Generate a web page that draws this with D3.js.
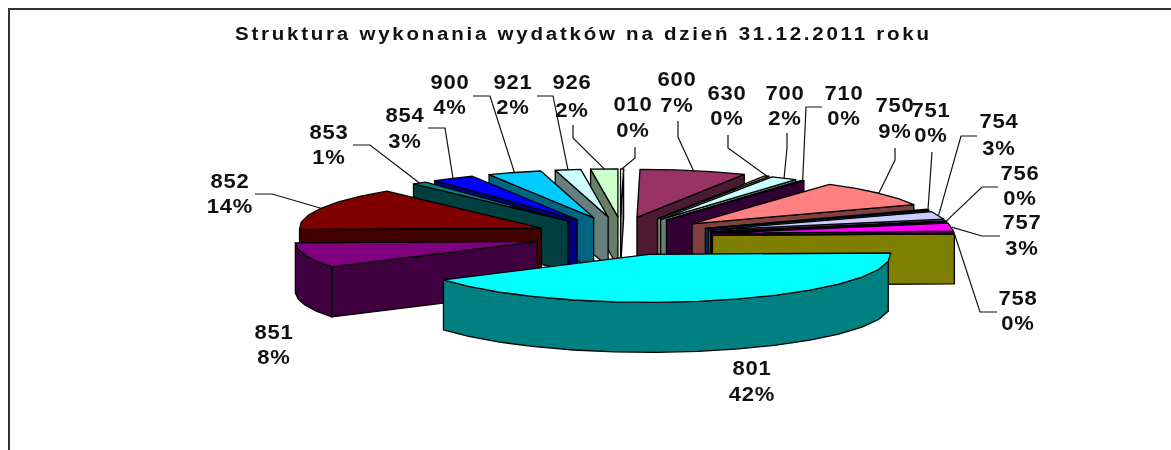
<!DOCTYPE html>
<html><head><meta charset="utf-8">
<style>html,body{margin:0;padding:0;background:#fff}svg{display:block;filter:blur(.45px)}
text{font-family:"Liberation Sans",Arial,sans-serif;font-weight:bold;fill:#111}</style>
<script src="https://cdn.jsdelivr.net/npm/d3@7"></script></head><body>
<script>
const titleText = "Struktura wykonania wydatków na dzień 31.12.2011 roku";
const categories = ["010","600","630","700","710","750","751","754","756","757","758","801","851","852","853","854","900","921","926"];
const shares = [0.2,7.1,0.3,1.8,0.2,8.8,0.3,2.6,0.2,2.7,0.3,41.5,8.4,14.4,1.0,2.9,3.6,1.7,1.8];
const topColors = ["#FFFFFF","#993366","#FFFFCC","#CCFFFF","#660066","#FF8080","#0066CC","#CCCCFF","#000080","#FF00FF","#FFFF00","#00FFFF","#800080","#800000","#008080","#0000FF","#00CCFF","#CCFFFF","#CCFFCC"];

// label layout: [cx of text, y of first line, y of second line]
const labelLayout = {
 "010":[633,104,130],"600":[677,79,105],"630":[727,93,118],"700":[785,93,118],"710":[844,93,118],
 "750":[895,105,131],"751":[931,110,135],"754":[999,121,148],"756":[1020,173,198],"757":[1022,222,248],
 "758":[1018,298,323],"801":[752,368,394],"851":[274,332,357],"852":[230,181,206],"853":[329,132,157],
 "854":[405,115,141],"900":[450,82,107],"921":[513,82,107],"926":[572,82,110]};
// leader elbows from the slice edge towards its label; the first point comes from the projection
const leaderElbows = {
 "010":[[635,158],[635,147]],"600":[[678,137],[678,121]],"630":[[728,148],[728,135]],"700":[[787,148],[787,133]],
 "710":[[806,107],[822,107]],"750":[[895,160],[895,148]],"751":[[932,152]],"754":[[961,136],[977,136]],
 "756":[[982,187],[998,187]],"757":[[982,236],[1000,236]],"758":[[980,312],[997,312]],"852":[[272,194],[255,194]],
 "853":[[370,145],[353,145]],"854":[[445,128],[428,128]],"900":[[490,96],[473,96]],"921":[[553,96],[537,96]],"926":[[573,138],[573,125]]};
// small horizontal offsets of the back slices (px), the source's explosion is not quite uniform
const sliceNudge = {"010":-3,"600":-7,"630":-6,"700":-8,"710":-7};

const W=1171,H=450, cx=623, cy=236, rx=242, ry=48, explodeX=0.37, explodeY=0.40, wall=50;
const sx=d3.scaleLinear().domain([-1,1]).range([cx-rx,cx+rx]);
const sy=d3.scaleLinear().domain([-1,1]).range([cy+ry,cy-ry]);
const svg=d3.select("body").append("svg").attr("width",W).attr("height",H);

svg.append("path").attr("d",`M9,${H}V9H${W}`).attr("fill","none").attr("stroke","#333").attr("stroke-width",2);
svg.append("text").attr("transform","translate(582,33) scale(1.08,1)").attr("text-anchor","middle").attr("dominant-baseline","central")
  .attr("font-size",19).attr("textLength",694/1.08).attr("lengthAdjust","spacing").text(titleText);

const arcs=d3.pie().sort(null).value((d,i)=>shares[i])(categories.map((c,i)=>i)).map((a,i)=>({...a,name:categories[i],color:topColors[i]}));
const pt=(a,t,r=1)=>[sx(a.ox+r*Math.sin(t))+(sliceNudge[a.name]||0),sy(a.oy+r*Math.cos(t))];
const line=d3.line();
arcs.forEach(a=>{a.mid=(a.startAngle+a.endAngle)/2;a.ox=explodeX*Math.sin(a.mid);a.oy=explodeY*Math.cos(a.mid);
  const n=Math.max(1,Math.ceil((a.endAngle-a.startAngle)/(Math.PI/18)));
  a.ts=d3.range(n+1).map(k=>a.startAngle+(a.endAngle-a.startAngle)*k/n);});
const shade=c=>{const q=d3.rgb(c);return d3.rgb(q.r/2,q.g/2,q.b/2).formatHex();};
const down=p=>[p[0],p[1]+wall];
const order=arcs.slice().sort((a,b)=>Math.abs(b.mid-Math.PI)-Math.abs(a.mid-Math.PI));

order.forEach(a=>{
  const g=svg.append("g").attr("stroke","#000").attr("stroke-width",1.3).attr("stroke-linejoin","round");
  const apex=pt(a,0,0), rim=a.ts.map(t=>pt(a,t));
  const dark=shade(a.color);
  const face=(pts,fill)=>g.append("path").attr("d",line(pts)+"Z").attr("fill",fill);
  if(Math.sin(a.endAngle)>0) face([apex,rim[rim.length-1],down(rim[rim.length-1]),down(apex)],dark);
  if(Math.sin(a.startAngle)<0) face([apex,rim[0],down(rim[0]),down(apex)],dark);
  const front=a.ts.map((t,i)=>[t,rim[i]]).filter(d=>Math.cos(d[0])<=0.02).map(d=>d[1]);
  if(front.length>1) face(front.concat(front.slice().reverse().map(down)),dark);
  face([apex].concat(rim),a.color);
});

arcs.forEach(a=>{
  const el=leaderElbows[a.name];
  if(el) svg.append("path").attr("d",line([pt(a,a.mid)].concat(el))).attr("fill","none").attr("stroke","#111").attr("stroke-width",1.2);
  const [lx,y1,y2]=labelLayout[a.name];
  const pct=Math.round(a.value)+"%";
  [[a.name,y1],[pct,y2]].forEach(([s,y])=>svg.append("text").attr("transform",`translate(${lx},${y}) scale(1.1,1)`)
    .attr("text-anchor","middle").attr("dominant-baseline","central").attr("font-size",20).attr("letter-spacing",0.7).text(s));
});
</script></body></html>
